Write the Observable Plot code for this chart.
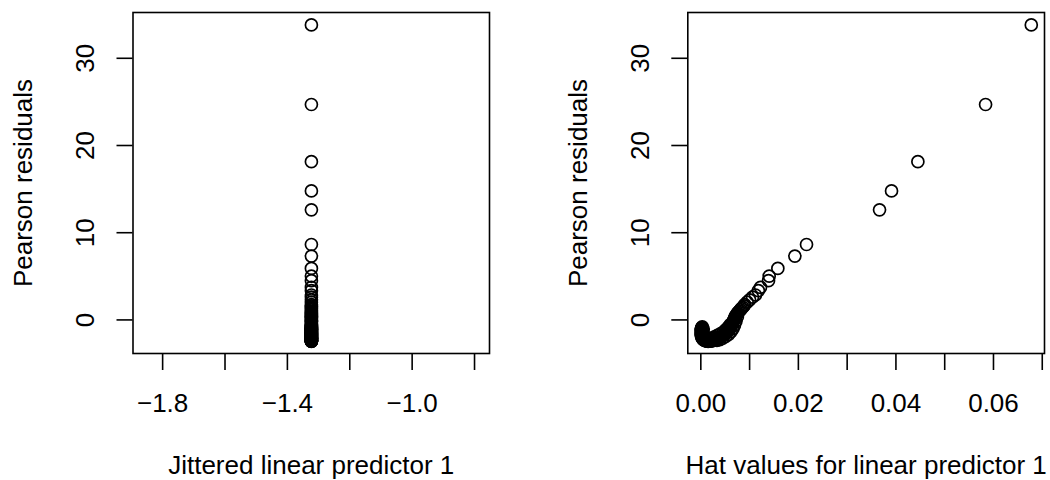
<!DOCTYPE html>
<html>
<head>
<meta charset="utf-8">
<script src="https://cdn.jsdelivr.net/npm/d3@7"></script>
<script src="https://cdn.jsdelivr.net/npm/@observablehq/plot@0.6"></script>
<style>
  html, body { margin: 0; padding: 0; background: #fff; }
  #row { display: flex; width: 1050px; height: 480px; }
  #row svg { display: block; }
</style>
</head>
<body>
<div id="row"></div>
<script>
// Hat values and Pearson residuals, one entry per observation
const hatValues = [
  0.06775, 0.05838, 0.04450, 0.03910, 0.03664, 0.02167, 0.01928, 0.01579,
  0.01402, 0.01388, 0.01224, 0.01180, 0.01120, 0.01060, 0.01000, 0.00950,
  0.00900, 0.00860, 0.00810, 0.00770, 0.00740, 0.00710, 0.00690, 0.00670,
  0.00650, 0.00630, 0.00610, 0.00580, 0.00540, 0.00500, 0.00450, 0.00400,
  0.00350, 0.00300, 0.00250, 0.00200, 0.00150, 0.00110, 0.00080, 0.00050,
  0.00030, 0.00020, 0.00010, 0.00010, 0.00010, 0.00010, 0.00020, 0.00030,
  0.00600, 0.00560, 0.00510, 0.00460, 0.00400, 0.00340, 0.00280, 0.00220,
  0.00160, 0.00110, 0.00070, 0.00050, 0.00040, 0.00040, 0.00050,
  0.00750, 0.00720, 0.00690, 0.00660, 0.00620, 0.00570, 0.00510, 0.00450,
  0.00390, 0.00330,
  0.00880, 0.00830, 0.00790, 0.00750, 0.00720, 0.00700, 0.00680, 0.00660,
  0.00640, 0.00620, 0.00600, 0.00560, 0.00520, 0.00480, 0.00430, 0.00380,
  0.00330, 0.00280, 0.00230, 0.00180, 0.00130, 0.00090, 0.00060, 0.00040,
  0.00020, 0.00010, 0.00010, 0.00010, 0.00010, 0.00010, 0.00020
];
const pearsonResiduals = [
  33.83, 24.70, 18.15, 14.79, 12.62, 8.65, 7.32, 5.91,
  5.03, 4.50, 3.74, 3.35, 2.86, 2.62, 2.30, 2.05,
  1.75, 1.45, 1.15, 0.90, 0.65, 0.40, 0.15, -0.10,
  -0.35, -0.60, -0.85, -1.10, -1.35, -1.58, -1.80, -1.98,
  -2.13, -2.26, -2.36, -2.43, -2.45, -2.42, -2.35, -2.24,
  -2.08, -1.90, -1.70, -1.50, -1.30, -1.10, -0.95, -0.80,
  -0.55, -0.85, -1.15, -1.40, -1.60, -1.78, -1.95, -2.08,
  -2.15, -2.12, -2.00, -1.80, -1.55, -1.30, -1.05,
  0.35, -0.15, -0.60, -1.00, -1.35, -1.65, -1.90, -2.10,
  -2.25, -2.36,
  1.60, 1.30, 1.02, 0.78, 0.52, 0.28, 0.02, -0.22,
  -0.48, -0.72, -0.98, -1.22, -1.46, -1.70, -1.90, -2.06,
  -2.20, -2.31, -2.40, -2.44, -2.44, -2.39, -2.30, -2.16,
  -2.00, -1.80, -1.60, -1.40, -1.20, -1.02, -0.88
];
// Linear predictor 1 (the same for every observation)
const linearPredictor = -1.323;

// Axis ticks and their labels
const leftTicks = [-1.8, -1.6, -1.4, -1.2, -1.0, -0.8];
const leftTickLabels = ["−1.8", "", "−1.4", "", "−1.0", ""];
const rightTicks = [0, 0.01, 0.02, 0.03, 0.04, 0.05, 0.06, 0.07];
const rightTickLabels = ["0.00", "", "0.02", "", "0.04", "", "0.06", ""];
const yTicks = [0, 10, 20, 30];
const yTickLabels = ["0", "10", "20", "30"];

const points = hatValues.map((h, i) => ({hat: h, residual: pearsonResiduals[i], lp: linearPredictor}));

const FONT = "'Liberation Sans', Arial, Helvetica, sans-serif";
const FS = 26;
const yDomain = [-3.85, 35.25];

function labeller(ticks, labels) {
  const m = new Map(ticks.map((t, i) => [t, labels[i]]));
  return d => m.get(d) ?? "";
}

function panel({xDomain, xTicks, xTickLabels, xField, xTitle, marginLeft, marginRight}) {
  return Plot.plot({
    width: 525,
    height: 480,
    marginLeft,
    marginRight,
    marginTop: 12,
    marginBottom: 127,
    x: {domain: xDomain},
    y: {domain: yDomain},
    style: {fontFamily: FONT, fontSize: FS + "px", background: "white", color: "black", overflow: "visible"},
    marks: [
      Plot.axisX({ticks: xTicks, tickFormat: labeller(xTicks, xTickLabels), tickSize: 17, tickPadding: 23.5,
                  strokeWidth: 1.6, fontSize: FS, label: null}),
      Plot.axisY({ticks: yTicks, tickFormat: labeller(yTicks, yTickLabels), tickSize: 16, tickPadding: 23,
                  tickRotate: -90, textAnchor: "middle", lineAnchor: "bottom",
                  strokeWidth: 1.6, fontSize: FS, label: null}),
      Plot.dot(points, {x: xField, y: "residual", r: 6, stroke: "black", strokeWidth: 1.7, fill: "none"}),
      Plot.frame({stroke: "black", strokeWidth: 1.6}),
      Plot.text([xTitle], {text: d => d, frameAnchor: "bottom", textAnchor: "middle", lineAnchor: "bottom",
                dy: 120, fontSize: FS}),
      Plot.text(["Pearson residuals"], {text: d => d, frameAnchor: "left", rotate: -90, textAnchor: "middle",
                lineAnchor: "bottom", dx: -101, fontSize: FS})
    ]
  });
}

const row = document.getElementById("row");
row.append(panel({
  xDomain: [-1.895, -0.752],
  xTicks: leftTicks,
  xTickLabels: leftTickLabels,
  xField: "lp",
  xTitle: "Jittered linear predictor 1",
  marginLeft: 132.5,
  marginRight: 36
}));
row.append(panel({
  xDomain: [-0.00267, 0.07046],
  xTicks: rightTicks,
  xTickLabels: rightTickLabels,
  xField: "hat",
  xTitle: "Hat values for linear predictor 1",
  marginLeft: 162.3,
  marginRight: 6
}));
</script>
</body>
</html>
